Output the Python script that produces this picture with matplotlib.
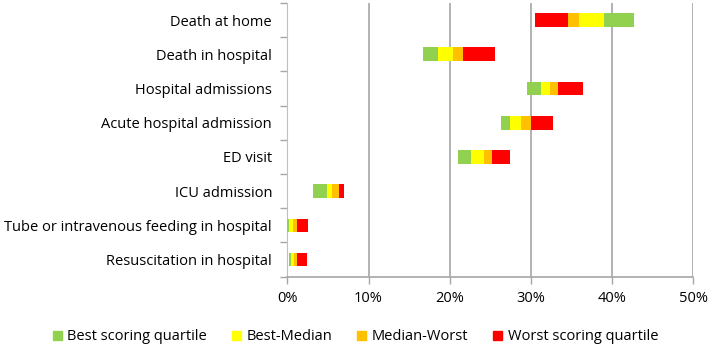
import numpy as np
import matplotlib
matplotlib.use("Agg")
import matplotlib.pyplot as plt

plt.rcParams["font.family"] = ["Open Sans", "DejaVu Sans"]

# ── Data (percent) ───────────────────────────────────────────────────────────
categories = ["Death at home", "Death in hospital", "Hospital admissions",
              "Acute hospital admission", "ED visit", "ICU admission",
              "Tube or intravenous feeding in hospital", "Resuscitation in hospital"]

# boundaries left → right: minimum, 1st, 2nd (median), 3rd quartile edge, maximum
edge_0 = [30.5, 16.7, 29.5, 26.35, 21.05, 3.2, 0.0, 0.25]
edge_1 = [34.6, 18.5, 31.2, 27.4, 22.65, 4.9, 0.25, 0.5]
edge_2 = [35.9, 20.4, 32.3, 28.8, 24.2, 5.55, 0.7, 0.8]
edge_3 = [39.0, 21.6, 33.3, 30.05, 25.15, 6.35, 1.15, 1.25]
edge_4 = [42.65, 25.6, 36.45, 32.75, 27.45, 6.95, 2.55, 2.45]
higher_is_better = [True, False, False, False, False, False, False, False]

series = ["Best scoring quartile", "Best-Median", "Median-Worst", "Worst scoring quartile"]
colors = ["#92D050", "#FFFF00", "#FFC000", "#FF0000"]

fig = plt.figure(figsize=(7.11, 3.46), dpi=100)
ax = fig.add_axes([287.3 / 711, 69.3 / 346, (693.3 - 287.3) / 711, (343 - 69.3) / 346])

edges = np.array([edge_0, edge_1, edge_2, edge_3, edge_4])
y = np.arange(len(categories))
for i in range(4):
    # segment i (left to right); colour depends on direction of "best"
    for j in range(len(categories)):
        k = 3 - i if higher_is_better[j] else i
        ax.barh(y[j], edges[i + 1, j] - edges[i, j], left=edges[i, j], height=0.4,
                color=colors[k], zorder=3)

handles = [plt.Rectangle((0, 0), 1, 1, color=c) for c in colors]

ax.set_xlim(0, 50)
ax.set_ylim(len(categories) - 0.5, -0.5)
ax.set_xticks(np.arange(0, 51, 10))
ax.set_xticklabels([f"{v}%" for v in range(0, 51, 10)], fontsize=10.5)
ax.set_yticks(y)
ax.set_yticklabels(categories, fontsize=10.5)
ax.set_yticks(np.arange(-0.5, len(categories), 1), minor=True)
ax.tick_params(axis="y", which="major", length=0, pad=11)
ax.tick_params(axis="y", which="minor", length=5, color="#A6A6A6", width=1)
ax.tick_params(axis="x", length=5, color="#A6A6A6", width=1, pad=5)
ax.xaxis.grid(True, color="#A6A6A6", lw=1.2, zorder=0)
for s in ["top", "right"]:
    ax.spines[s].set_visible(False)
ax.spines["left"].set_color("#BFBFBF")
ax.spines["bottom"].set_color("#A6A6A6")
ax.spines["bottom"].set_linewidth(1.2)

fig.legend(handles, series, loc="center", bbox_to_anchor=(0.5, 9 / 346), ncol=4,
           frameon=False, fontsize=10.5, handlelength=0.6, handleheight=0.6,
           handletextpad=0.4, columnspacing=1.7)

fig.savefig("out.png", dpi=100)
